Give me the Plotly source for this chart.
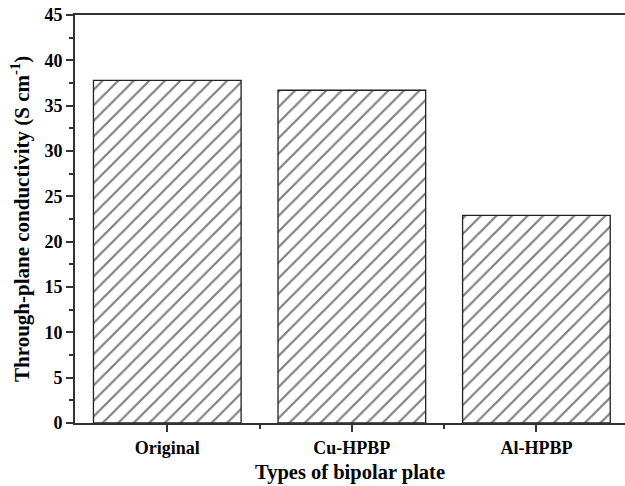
import plotly.graph_objects as go

categories = ["Original", "Cu-HPBP", "Al-HPBP"]
positions = [0, 1, 2]
conductivity = [37.8, 36.7, 22.9]
y_ticks = list(range(0, 50, 5))

fig = go.Figure()
fig.add_trace(go.Bar(
    x=positions, y=conductivity, width=0.8,
    marker=dict(color="white",
                line=dict(color="#222", width=1.3),
                pattern=dict(shape="/", size=11, solidity=0.2, fgcolor="black", bgcolor="white")),
    showlegend=False,
))

font_family = "Liberation Serif"
fig.update_layout(
    width=625, height=486,
    margin=dict(l=75, r=0, t=15, b=63),
    paper_bgcolor="white", plot_bgcolor="white",
    font=dict(family=font_family, color="black"),
    bargap=0.2,
    annotations=[
        dict(text="<b>Types of bipolar plate</b>", xref="paper", yref="paper",
             x=0.5, y=-0.121, xanchor="center", yanchor="middle", showarrow=False,
             font=dict(size=20.5, family=font_family, color="black")),
        dict(text="<b>Through-plane conductivity (S cm<sup>-1</sup>)</b>", xref="paper", yref="paper",
             x=-0.1, y=0.5, xanchor="center", yanchor="middle", textangle=-90, showarrow=False,
             font=dict(size=21, family=font_family, color="black")),
    ],
)
fig.update_xaxes(
    range=[-0.5, 2.48], tickmode="array", tickvals=positions, ticktext=["<b>%s</b>" % c for c in categories],
    ticks="outside", ticklen=7, tickwidth=1.5, tickcolor="#333",
    minor=dict(tickmode="array", tickvals=[0.5, 1.5], ticks="outside", ticklen=4, tickwidth=1.5, tickcolor="#333"),
    showline=True, linecolor="#333", linewidth=2, mirror=True,
    showgrid=False, zeroline=False,
    tickfont=dict(size=18, family=font_family),
)
fig.update_yaxes(
    range=[0, 45],
    tickvals=y_ticks, ticktext=["<b>%d</b>" % v for v in y_ticks],
    ticks="outside", ticklen=7, tickwidth=1.5, tickcolor="#333",
    minor=dict(dtick=2.5, ticks="outside", ticklen=4, tickwidth=1.5, tickcolor="#333"),
    showline=True, linecolor="#333", linewidth=2,
    showgrid=False, zeroline=False,
    tickfont=dict(size=18, family=font_family),
)
fig.write_html("out.html")
